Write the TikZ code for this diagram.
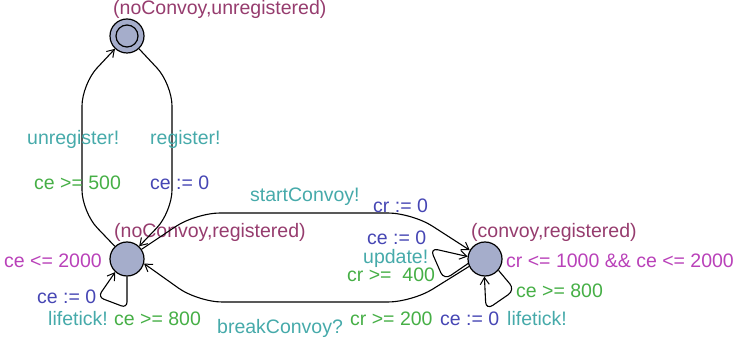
\documentclass[tikz,border=0pt]{standalone}
\usepackage{fontspec}
\setmainfont{Liberation Sans}
\usetikzlibrary{arrows.meta}

\definecolor{locname}{RGB}{150,60,110}
\definecolor{invcol}{RGB}{185,65,185}
\definecolor{synccol}{RGB}{70,170,170}
\definecolor{guardcol}{RGB}{70,175,70}
\definecolor{assigncol}{RGB}{70,70,180}
\definecolor{locfill}{RGB}{165,173,203}

\begin{document}
\begin{tikzpicture}[x=1pt,y=-1pt,
  font=\fontsize{19.5}{23}\selectfont,
  loc/.style={circle,draw,line width=1.2pt,fill=locfill,minimum size=34pt,inner sep=0pt},
  edge/.style={line width=1.1pt,-{Straight Barb[length=7pt,width=9pt,line width=1pt]}},
  lbltext/.style={anchor=base west,inner sep=0pt},
  lname/.style={lbltext,text=locname},
  linv/.style={lbltext,text=invcol},
  lsync/.style={lbltext,text=synccol},
  lguard/.style={lbltext,text=guardcol},
  lassign/.style={lbltext,text=assigncol}]
\useasboundingbox (0,0) rectangle (738,344);

% locations
\node[loc] (unreg) at (127,36) {};
\draw[line width=1.2pt] (unreg.center) circle[radius=11pt];
\node[loc] (reg) at (127,259) {};
\node[loc] (conv) at (485,259) {};

% location names and invariants
\node[lname] (nUnreg) at (113,15) {(noConvoy,unregistered)};
\node[lname] (nReg) at (114,238) {(noConvoy,registered)};
\node[lname] (nConv) at (471,238) {(convoy,registered)};
\node[linv] (iReg) at (4,268) {ce <= 2000};
\node[linv] (iConv) at (506,268) {cr <= 1000 \&\& ce <= 2000};

% unregister / register
\draw[edge,rounded corners=22pt] (reg) -- (82,212) -- (82,84) -- (unreg);
\draw[edge,rounded corners=22pt] (unreg) -- (172,84) -- (172,212) -- (reg);
\node[lsync] (sUnreg) at (27,145) {unregister!};
\node[lguard] (gUnreg) at (34,190) {ce >= 500};
\node[lsync] (sReg) at (150,145) {register!};
\node[lassign] (aReg) at (150,190) {ce := 0};

% startConvoy / breakConvoy
\draw[edge,rounded corners=24pt] (reg) -- (196,213) -- (412,213) -- (conv.150);
\draw[edge,rounded corners=24pt] (conv.205) -- (412,302) -- (198,302) -- (reg.-15);
\node[lsync] (sStart) at (250,202) {startConvoy!};
\node[lassign] (aStart) at (373,213) {cr := 0};
\node[lsync] (sBreak) at (217,333) {breakConvoy?};
\node[lguard] (gBreak) at (350,325) {cr >= 200};
\node[lassign] (aBreak) at (440,325) {ce := 0};

% self loop on (noConvoy,registered)
\draw[edge,rounded corners=6pt] (reg.270) -- (127,308) -- (98,297) -- (reg.228);
\node[lassign] (aLoopReg) at (37,303) {ce := 0};
\node[lsync] (sLoopReg) at (48,325) {lifetick!};
\node[lguard] (gLoopReg) at (114,325) {ce >= 800};

% update loop on (convoy,registered)
\draw[edge,rounded corners=8pt] (conv.195) -- (444,280) -- (430,248) -- (conv.172);
\node[lassign] (aUpd) at (367,245) {ce := 0};
\node[lsync] (sUpd) at (363,264) {update!};
\node[lguard] (gUpd) at (347,282) {cr >=\ \ 400};

% lifetick loop on (convoy,registered)
\draw[edge,rounded corners=8pt] (conv.-40) -- (515,290) -- (486,310) -- (conv.268);
\node[lguard] (gLoopConv) at (516,298) {ce >= 800};
\node[lsync] (sLoopConv) at (507,325) {lifetick!};
\end{tikzpicture}
\end{document}
